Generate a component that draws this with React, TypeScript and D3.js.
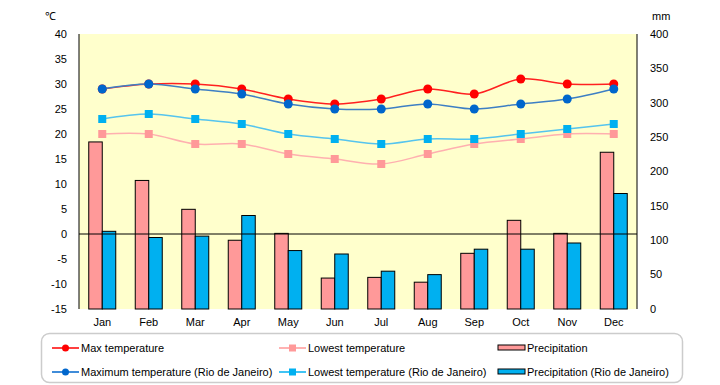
import React from "react";
import * as d3 from "d3";

const months = ["Jan", "Feb", "Mar", "Apr", "May", "Jun", "Jul", "Aug", "Sep", "Oct", "Nov", "Dec"];
const maxTemp = [29, 30, 30, 29, 27, 26, 27, 29, 28, 31, 30, 30];
const lowTemp = [20, 20, 18, 18, 16, 15, 14, 16, 18, 19, 20, 20];
const precip = [243, 187, 145, 100, 110, 45, 46, 39, 81, 129, 110, 228];
const rioMax = [29, 30, 29, 28, 26, 25, 25, 26, 25, 26, 27, 29];
const rioLow = [23, 24, 23, 22, 20, 19, 18, 19, 19, 20, 21, 22];
const rioPrecip = [113, 104, 106, 136, 85, 80, 55, 50, 87, 87, 96, 168];
const tempTicks = [40, 35, 30, 25, 20, 15, 10, 5, 0, -5, -10, -15];
const mmTicks = [400, 350, 300, 250, 200, 150, 100, 50, 0];

const width = 720;
const height = 385;
const plot = { left: 79, right: 637, top: 34, bottom: 309 };
const font = "'Liberation Sans', Arial, sans-serif";

export default function App() {
  const x = d3.scaleBand().domain(months).range([plot.left, plot.right]);
  const yT = d3.scaleLinear().domain([-15, 40]).range([plot.bottom, plot.top]);
  const yP = d3.scaleLinear().domain([0, 400]).range([plot.bottom, plot.top]);
  const cx = (m: string) => (x(m) as number) + x.bandwidth() / 2;
  const barW = 13.5;

  const line = d3
    .line<number>()
    .x((_, i) => cx(months[i]))
    .y(d => yT(d))
    .curve(d3.curveCatmullRom.alpha(0.5));

  // drawing order: later series sit on top
  const tempSeries = [
    { name: "Lowest temperature", data: lowTemp, line: "#ffb0b0", fill: "#ff9999", shape: "square" },
    { name: "Lowest temperature (Rio de Janeiro)", data: rioLow, line: "#55c4ee", fill: "#00b0f0", shape: "square" },
    { name: "Max temperature", data: maxTemp, line: "#ff2020", fill: "#ff0000", shape: "circle" },
    { name: "Maximum temperature (Rio de Janeiro)", data: rioMax, line: "#3d7fc4", fill: "#0066cc", shape: "circle" },
  ];

  const legend = [
    { label: "Max temperature", x: 52, y: 348, kind: "circle", color: "#ff0000" },
    { label: "Lowest temperature", x: 279, y: 348, kind: "square", color: "#ff9999" },
    { label: "Precipitation", x: 498, y: 348, kind: "bar", color: "#ff9999" },
    { label: "Maximum temperature (Rio de Janeiro)", x: 52, y: 372, kind: "circle", color: "#0066cc" },
    { label: "Lowest temperature (Rio de Janeiro)", x: 279, y: 372, kind: "square", color: "#00b0f0" },
    { label: "Precipitation (Rio de Janeiro)", x: 498, y: 372, kind: "bar", color: "#00b0f0" },
  ];

  return (
    <svg
      width={width}
      height={height}
      style={{ position: "absolute", left: 0, top: 0, background: "#fff" }}
      fontFamily={font}
      fontSize={11}
    >
      <rect x={plot.left} y={plot.top} width={plot.right - plot.left} height={plot.bottom - plot.top} fill="#ffffcc" />

      {/* precipitation bars */}
      {months.map((m, i) => (
        <g key={m} stroke="#000" strokeWidth={1}>
          <rect x={cx(m) - barW} y={yP(precip[i])} width={barW} height={yP(0) - yP(precip[i])} fill="#ff9999" />
          <rect x={cx(m)} y={yP(rioPrecip[i])} width={barW} height={yP(0) - yP(rioPrecip[i])} fill="#00b0f0" />
        </g>
      ))}

      <line x1={plot.left} x2={plot.right} y1={yT(0)} y2={yT(0)} stroke="#000" strokeWidth={1} />

      {/* temperature lines */}
      {tempSeries.map(s => (
        <g key={s.name}>
          <path d={line(s.data) as string} fill="none" stroke={s.line} strokeWidth={1.5} />
          {s.data.map((v, i) =>
            s.shape === "circle" ? (
              <circle key={i} cx={cx(months[i])} cy={yT(v)} r={4.5} fill={s.fill} />
            ) : (
              <rect key={i} x={cx(months[i]) - 4} y={yT(v) - 4} width={8} height={8} fill={s.fill} />
            )
          )}
        </g>
      ))}

      {/* axes */}
      <line x1={plot.left} x2={plot.left} y1={plot.top} y2={plot.bottom} stroke="#000" />
      <line x1={plot.right} x2={plot.right} y1={plot.top} y2={plot.bottom} stroke="#000" />
      {tempTicks.map(t => (
        <text key={t} x={67} y={yT(t)} dy="0.35em" textAnchor="end">
          {t}
        </text>
      ))}
      {mmTicks.map(t => (
        <text key={t} x={650} y={yP(t)} dy="0.35em" textAnchor="start">
          {t}
        </text>
      ))}
      {months.map(m => (
        <text key={m} x={cx(m)} y={322} dy="0.35em" textAnchor="middle">
          {m}
        </text>
      ))}
      <text x={45} y={16} dy="0.35em">℃</text>
      <text x={652} y={16} dy="0.35em">mm</text>

      {/* legend */}
      <rect x={41.5} y={333.5} width={641} height={49} rx={8} fill="#fff" stroke="#cccccc" strokeWidth={1.5} />
      {legend.map(l => (
        <g key={l.label}>
          {l.kind === "bar" ? (
            <rect x={l.x} y={l.y - 3} width={27} height={5} fill={l.color} stroke="#000" />
          ) : (
            <>
              <line x1={l.x} x2={l.x + 27} y1={l.y} y2={l.y} stroke={l.color} strokeWidth={1.5} />
              {l.kind === "circle" ? (
                <circle cx={l.x + 13.5} cy={l.y} r={3.5} fill={l.color} />
              ) : (
                <rect x={l.x + 10} y={l.y - 3.5} width={7} height={7} fill={l.color} />
              )}
            </>
          )}
          <text x={l.x + 29} y={l.y} dy="0.35em">
            {l.label}
          </text>
        </g>
      ))}
    </svg>
  );
}
